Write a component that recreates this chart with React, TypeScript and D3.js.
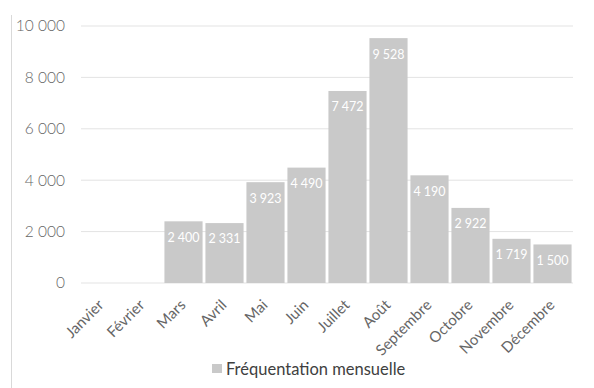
import React from "react";
import * as d3 from "d3";

const months = ["Janvier", "Février", "Mars", "Avril", "Mai", "Juin", "Juillet", "Août", "Septembre", "Octobre", "Novembre", "Décembre"];
const visits: (number | null)[] = [null, null, 2400, 2331, 3923, 4490, 7472, 9528, 4190, 2922, 1719, 1500];
const yTicks = [0, 2000, 4000, 6000, 8000, 10000];
const seriesName = "Fréquentation mensuelle";

const W = 594, H = 388;
const FONT = "Lato, 'Open Sans', sans-serif";

export default function App() {
  const fmt = d3.formatLocale({ decimal: ",", thousands: " ", grouping: [3], currency: ["", "€"] }).format(",d");
  const x = d3.scaleBand<string>().domain(months).range([81, 573]).paddingInner(0.07).paddingOuter(0.035);
  const y = d3.scaleLinear().domain([0, 10000]).range([283, 26]);
  const color = "#c9c9c9";
  return (
    <svg width={W} height={H} style={{ position: "absolute", left: 0, top: 0, background: "#fff" }}>
      <line x1={11.5} x2={11.5} y1={15} y2={H} stroke="#d9d9d9" strokeWidth={1} />
      {yTicks.map(t => (
        <g key={t}>
          <line x1={81} x2={573} y1={y(t)} y2={y(t)} stroke="#e3e3e3" strokeWidth={1} />
          <text x={65} y={y(t)} dy="0.35em" textAnchor="end" fontFamily={FONT} fontSize={15.5} fill="#666" fontWeight={300}>{fmt(t)}</text>
        </g>
      ))}
      {months.map((m, i) => {
        const v = visits[i];
        const bx = x(m)!;
        const cx = bx + x.bandwidth() / 2;
        return (
          <g key={m}>
            {v != null && (
              <>
                <rect x={bx} y={y(v)} width={x.bandwidth()} height={y(0) - y(v)} fill={color} />
                <text x={cx} y={y(v) + 16} dy="0.35em" textAnchor="middle" fontFamily={FONT} fontSize={12.5} fill="#fff">{fmt(v)}</text>
              </>
            )}
            <text transform={`translate(${cx + 3},${y(0) + 23})rotate(-45)`} textAnchor="end" fontFamily={FONT} fontSize={15} fill="#666">{m}</text>
          </g>
        );
      })}
      <rect x={212} y={364} width={10} height={9} fill={color} />
      <text x={226} y={369} dy="0.35em" fontFamily={FONT} fontSize={16.5} fill="#404040">{seriesName}</text>
    </svg>
  );
}
